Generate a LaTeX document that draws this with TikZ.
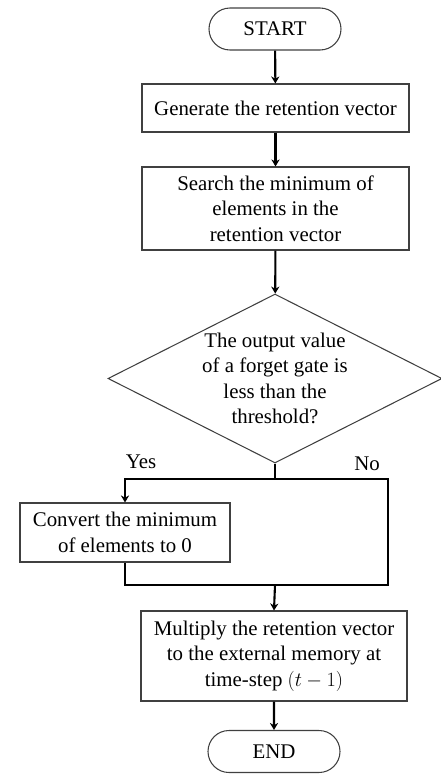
\documentclass[tikz,border=0pt]{standalone}
\usepackage{fontspec}
\setmainfont{Liberation Serif}
\usetikzlibrary{arrows.meta,shapes.geometric,shapes.misc}

\begin{document}
\begin{tikzpicture}[x=0.03cm, y=-0.03cm,
  every node/.style={font=\fontsize{17.8}{21.7}\selectfont},
  term/.style={rounded rectangle, draw=black!75, line width=0.9pt,
    minimum width=3.96cm, minimum height=1.26cm, inner sep=0pt},
  proc/.style={rectangle, draw=black!75, line width=0.9pt,
    align=center, inner sep=0pt},
  decide/.style={diamond, draw=black!75, line width=0.9pt, align=center,
    aspect=2, inner sep=0pt, minimum width=10.02cm, minimum height=5.07cm},
  flow/.style={line width=1.8pt},
  arr/.style={flow, -{Stealth[length=6pt, width=7pt]}},
  lab/.style={inner sep=0pt}]
\useasboundingbox (0,0) rectangle (440,774);
% ---------------- main column ----------------
\node[term] (start) at (275,29) {START};
\node[proc, minimum width=8.01cm, minimum height=1.44cm] (gen) at (275.5,108)
  {Generate the retention vector};
\node[proc, minimum width=8.01cm, minimum height=2.49cm] (search) at (275.5,208.5)
  {Search the minimum of\\ elements in the\\ retention vector};
\node[decide] (cond) at (275,378.5)
  {The output value\\ of a forget gate is\\ less than the\\ threshold?};
% ---------------- branches ----------------
\coordinate (split) at (275,479);
\coordinate (nodown) at (388,585);
\coordinate (join) at (275,585);
\node[proc, minimum width=6.3cm, minimum height=1.77cm] (conv) at (125,532.5)
  {Convert the minimum\\ of elements to 0};
\node[lab] (yes) at (141,462) {Yes};
\node[lab] (no) at (367,464) {No};
% ---------------- bottom ----------------
\node[proc, minimum width=7.98cm, minimum height=2.7cm] (mult) at (274,656)
  {Multiply the retention vector\\ to the external memory at\\ time-step $(t-1)$};
\node[term] (end) at (274,751.5) {END};
% ---------------- connectors ----------------
\draw[arr] (start) -- (gen);
\draw[arr] (gen) -- (search);
\draw[arr] (search) -- (cond);
\draw[flow] (cond.south) -- (split);
\draw[arr] (split) -| (conv.north);
\draw[flow] (split) -| (nodown) -- (join);
\draw[flow] (conv.south) |- (join);
\draw[arr] (join) -- (mult.north);
\draw[arr] (mult) -- (end);
\end{tikzpicture}
\end{document}
